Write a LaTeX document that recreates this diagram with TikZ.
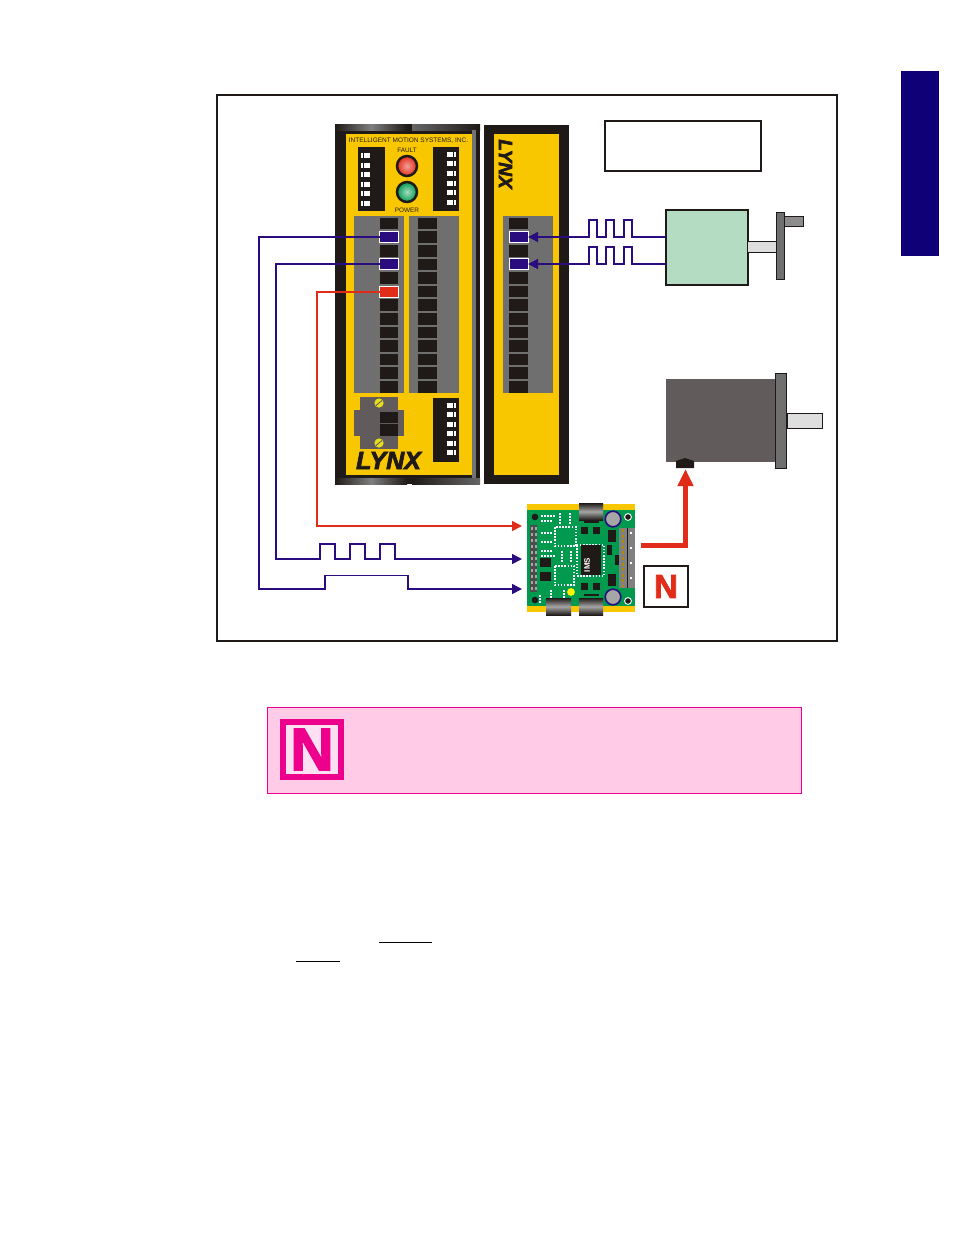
\documentclass[tikz,border=0pt]{standalone}
\usepackage{fontspec}
\setmainfont{Liberation Sans}
\newfontfamily\heavyfont[FakeBold=2.5]{Liberation Sans Bold}
\newfontfamily\logofont[FakeBold=3]{Liberation Sans Bold Italic}
\usetikzlibrary{arrows.meta}
\definecolor{navytab}{HTML}{100078}
\definecolor{wireblue}{HTML}{2A0C7E}
\definecolor{wirered}{HTML}{E22C1A}
\definecolor{lynxyellow}{HTML}{F9C700}
\definecolor{nearblack}{HTML}{1F1A17}
\definecolor{blockgray}{HTML}{706F6F}
\definecolor{motorgray}{HTML}{615B5B}
\definecolor{shaftgray}{HTML}{DEDEDE}
\definecolor{encgreen}{HTML}{B3DCC3}
\definecolor{boardgreen}{HTML}{009A4E}
\definecolor{notepink}{HTML}{FFCBE6}
\definecolor{noteline}{HTML}{EC008C}
\tikzset{
  box/.style={inner sep=0pt,outer sep=0pt,anchor=north west},
  slot/.style={box,anchor=center,fill=nearblack,minimum width=18pt,minimum height=11.5pt},
  port/.style={box,anchor=center,draw=white,line width=0.8pt,minimum width=19pt,minimum height=11pt},
  bluewire/.style={draw=wireblue,line width=1.5pt,line join=miter},
  redwire/.style={draw=wirered,line width=1.7pt,line join=miter},
  tip/.style={-{Triangle[length=10pt,width=10pt]}},
  trace/.style={draw=white,line width=1.1pt,dash pattern=on 1.5pt off 1.6pt},
  roller/.style={box,top color=nearblack,bottom color=nearblack,middle color=black!35},
  led/.style={circle,inner sep=0pt,minimum size=20pt,draw=nearblack,line width=2.5pt,shading=radial},
  chip/.style={box,fill=nearblack},
  small/.style={anchor=center,inner sep=0pt,text=nearblack,font=\fontsize{6.4}{7}\selectfont},
}
\newcommand{\switches}[3]{%
  \foreach \s in {#3} {
    \fill[white] (#1,\s-2.5) rectangle (#1+8.5,\s+2.5);
    \draw[nearblack,line width=0.7pt] (#1+#2,\s-2.5) -- (#1+#2,\s+2.5);
  }
}
\begin{document}
\begin{tikzpicture}[x=1pt,y=-1pt]
  \useasboundingbox (0,0) rectangle (954,1235);
  \fill[white] (0,0) rectangle (954,1235);
  \fill[navytab] (901,71) rectangle (939,256);
  \draw[nearblack,line width=1.4pt] (217,95) rectangle (837,641);
  \draw[nearblack,line width=1.6pt] (605,121) rectangle (761,171);

  \fill[nearblack] (335,124) rectangle (480,484);
  \shade[left color=nearblack,right color=nearblack,middle color=black!50] (335,124) rectangle (407,130);
  \shade[left color=black!60,right color=nearblack] (412,124) rectangle (480,130);
  \shade[left color=nearblack,right color=nearblack,middle color=black!50] (335,478) rectangle (407,484);
  \shade[left color=nearblack,right color=black!60] (412,478) rectangle (480,484);
  \fill[black!55] (472,130) rectangle (476,478);
  \fill[lynxyellow] (346,134) rectangle (472,475);
  \fill[nearblack] (484,125) rectangle (569,484);
  \fill[lynxyellow] (494,134) rectangle (559,475);

  \node[small,font=\fontsize{6.5}{7}\selectfont] (title) at (408.5,140.5) {INTELLIGENT MOTION SYSTEMS, INC.};
  \node[small] (fault) at (407,150.5) {FAULT};
  \node[small] (power) at (407,210.5) {POWER};
  \node[led,inner color=wirered!45!white,outer color=wirered] (faultled) at (407,166) {};
  \node[led,inner color=boardgreen!35!white,outer color=boardgreen] (powerled) at (407,192) {};

  \fill[nearblack] (358,147) rectangle (385,211);
  \fill[nearblack] (433,147) rectangle (459,211);
  \fill[nearblack] (433,398) rectangle (459,462);
  \switches{361}{2}{155.7,165,174.7,184.3,193.7,203.3}
  \switches{447}{6}{154.3,163.7,173.3,183,192.3,202}
  \switches{447}{6}{405.3,414.3,424.3,433.3,443.3,452.3}

  \fill[blockgray] (354,216) rectangle (404,393);
  \fill[blockgray] (409,216) rectangle (459,393);
  \fill[blockgray] (503,216) rectangle (553,393);
  \foreach \i in {0,...,12} {
    \node[slot] (la\i) at (389,{223.6+13.6*\i}) {};
    \node[slot,minimum width=19pt] (lb\i) at (427.5,{223.6+13.6*\i}) {};
    \node[slot,minimum width=19pt] (rb\i) at (518.5,{223.6+13.6*\i}) {};
  }
  \node[port,fill=wireblue] (dirport) at (389,237) {};
  \node[port,fill=wireblue] (stepport) at (389,264) {};
  \node[port,fill=wirered] (enport) at (389,292) {};
  \node[port,fill=wireblue] (chaport) at (518.5,237) {};
  \node[port,fill=wireblue] (chbport) at (518.5,264) {};

  \fill[motorgray] (360,397) rectangle (398,449);
  \fill[motorgray] (354,410) rectangle (404,436);
  \node[slot] (pwra) at (389,417.5) {};
  \node[slot] (pwrb) at (389,430) {};
  \foreach \y in {403,443} {
    \fill[yellow!90!black] (379,\y) circle (4.6);
    \draw[black!60,line width=1pt] (376,\y+2.5) -- (382,\y-2.5);
  }
  \node[anchor=center,inner sep=0pt,text=nearblack,font=\fontsize{25}{25}\logofont] (logo) at (388.5,460.5) {LYNX};
  \node[anchor=center,inner sep=0pt,rotate=-90,text=nearblack,font=\fontsize{19}{20}\logofont] (logor) at (505.5,164) {LYNX};

  \node[box,fill=encgreen,draw=nearblack,line width=1.8pt,minimum width=82pt,minimum height=75pt] (encoder) at (666,210) {};
  \fill[shaftgray] (748,241) rectangle (776,252);
  \draw[nearblack,line width=0.8pt] (748,241) -- (776,241) (748,252) -- (776,252);
  \draw[nearblack,fill=blockgray!80,line width=0.8pt] (784,216.5) rectangle (803,226.5);
  \draw[nearblack,fill=blockgray,line width=0.8pt] (776,212.5) rectangle (784,279.5);

  \node[box,fill=motorgray,minimum width=110pt,minimum height=83pt] (motor) at (666,379) {};
  \draw[nearblack,fill=shaftgray,line width=0.8pt] (787,413.5) rectangle (822,428.5);
  \draw[nearblack,fill=blockgray,line width=0.8pt] (775.5,373.5) rectangle (786.5,468);
  \fill[nearblack] (676,468) -- (676,461) -- (685,458) -- (694,461) -- (694,468) -- cycle;
  \coordinate (motorplug) at (685.5,469);

  \fill[lynxyellow] (527,504) rectangle (635,612);
  \node[box,fill=boardgreen,minimum width=108pt,minimum height=96pt] (driver) at (527,510) {};
  \node[roller,minimum width=24pt,minimum height=17pt] (rollera) at (579,503) {};
  \node[roller,minimum width=25pt,minimum height=17pt] (rollerb) at (546,598) {};
  \node[roller,minimum width=24pt,minimum height=17pt] (rollerc) at (579,598) {};
  \fill[black!70] (530,525) rectangle (537,592);
  \foreach \i in {0,...,10} {
    \fill[black!35] (531,{527+6*\i}) rectangle (533,{529.5+6*\i});
    \fill[black!35] (534.5,{527+6*\i}) rectangle (536.5,{529.5+6*\i});
  }
  \foreach \x/\y in {535/517,535/600} \fill[nearblack] (\x,\y) circle (3.3);
  \foreach \x/\y in {628/517,628/601} \filldraw[fill=nearblack,draw=white,line width=0.9pt] (\x,\y) circle (3.4);
  \foreach \y in {519,597} \filldraw[fill=black!35,draw=wireblue,line width=1.6pt] (613,\y) circle (7.8);
  \fill[black!50] (619,528) rectangle (635,588);
  \draw[nearblack,line width=0.6pt] (627,528) -- (627,588);
  \draw[lynxyellow!70!black,line width=2pt,dash pattern=on 3pt off 2.6pt] (623,529) -- (623,587);
  \draw[white,line width=1.5pt,dash pattern=on 2pt off 13pt] (631,532) -- (631,587);
  \draw[trace] (555,527) rectangle (576,546);
  \draw[trace] (555,566) rectangle (574,585);
  \draw[trace] (577,545) rectangle (604,576);
  \draw[trace] (541,533) -- (552,533) (541,542) -- (552,542) (541,551) -- (552,551) (541,556) -- (556,556);
  \draw[trace] (541,516) -- (556,516) (541,521) -- (552,521);
  \draw[trace] (560,513) -- (560,524) (570,513) -- (570,524);
  \draw[trace] (562,551) -- (562,562) (571,551) -- (571,562);
  \draw[trace] (540,595) -- (540,604) (551,590) -- (551,598) (564,590) -- (564,598);
  \node[chip,minimum width=20pt,minimum height=30pt] (mcu) at (581,545) {};
  \node[anchor=center,inner sep=0pt,rotate=90,text=white,font=\fontsize{8}{8}\bfseries\selectfont] (mculabel) at (587,565) {IMS};
  \foreach \x/\y/\w/\h in {540/558/11/9,540/572/11/9,581/527/7/7,593/527/7/7,581/583/7/7,593/583/7/7,608/530/8/12,608/574/8/12,607/545/5/10,615/555/4/10} {
    \node[chip,minimum width=\w pt,minimum height=\h pt] (part\x\y) at (\x,\y) {};
  }
  \fill[nearblack] (584,521) rectangle (599,523);
  \fill[nearblack] (584,594) rectangle (599,596);
  \fill[yellow] (571,592) circle (3.9);

  \coordinate (powercorner) at (685.5,545.7);
  \coordinate (powerfrom) at (641,545.7);
  \draw[draw=wirered,line width=4.6pt,-{Triangle[length=17pt,width=15pt]}] (powerfrom) -- (powercorner) -- (motorplug);
  \node[box,draw=nearblack,line width=1.8pt,minimum width=44pt,minimum height=41pt] (nbox) at (644,566) {};
  \node[anchor=center,inner sep=0pt,text=wirered,font=\fontsize{33}{33}\heavyfont] (nmark) at (nbox.center) {N};

  \coordinate (dirturn) at (259,589);
  \coordinate (stepturn) at (276,559);
  \coordinate (enturn) at (317,526);
  \coordinate (dirin) at (522,589);
  \coordinate (stepin) at (522,559);
  \coordinate (enin) at (522,526);
  \draw[bluewire,tip] (dirport.west) -| (dirturn) -- (325,589) -- (325,575.5) -- (408,575.5) -- (408,589) -- (dirin);
  \draw[bluewire,tip] (stepport.west) -| (stepturn) -- (320,559) -- (320,544) -- (335,544) -- (335,559) -- (350,559)
    -- (350,544) -- (365,544) -- (365,559) -- (380,559) -- (380,544) -- (395,544) -- (395,559) -- (stepin);
  \draw[redwire,tip] (enport.west) -| (enturn) -- (enin);
  \draw[bluewire,tip] (encoder.west |- chaport) -- (632,237) -- (632,220) -- (624,220) -- (624,237) -- (614,237)
    -- (614,220) -- (606,220) -- (606,237) -- (597,237) -- (597,220) -- (589,220) -- (589,237) -- (chaport.east);
  \draw[bluewire,tip] (encoder.west |- chbport) -- (632,264) -- (632,247) -- (624,247) -- (624,264) -- (614,264)
    -- (614,247) -- (606,247) -- (606,264) -- (597,264) -- (597,247) -- (589,247) -- (589,264) -- (chbport.east);

  \node[box,fill=notepink,draw=noteline,line width=0.7pt,minimum width=534pt,minimum height=86pt] (note) at (267,707) {};
  \node[box,fill=noteline!12,draw=noteline,line width=6pt,minimum width=58pt,minimum height=55pt] (noteicon) at (283,722) {};
  \node[anchor=center,inner sep=0pt,text=noteline,font=\fontsize{60}{60}\heavyfont] (notemark) at (noteicon.center) {N};
  \draw[black,line width=0.8pt] (379,942.5) -- (432,942.5);
  \draw[black,line width=0.8pt] (296,961.5) -- (340,961.5);
\end{tikzpicture}
\end{document}
